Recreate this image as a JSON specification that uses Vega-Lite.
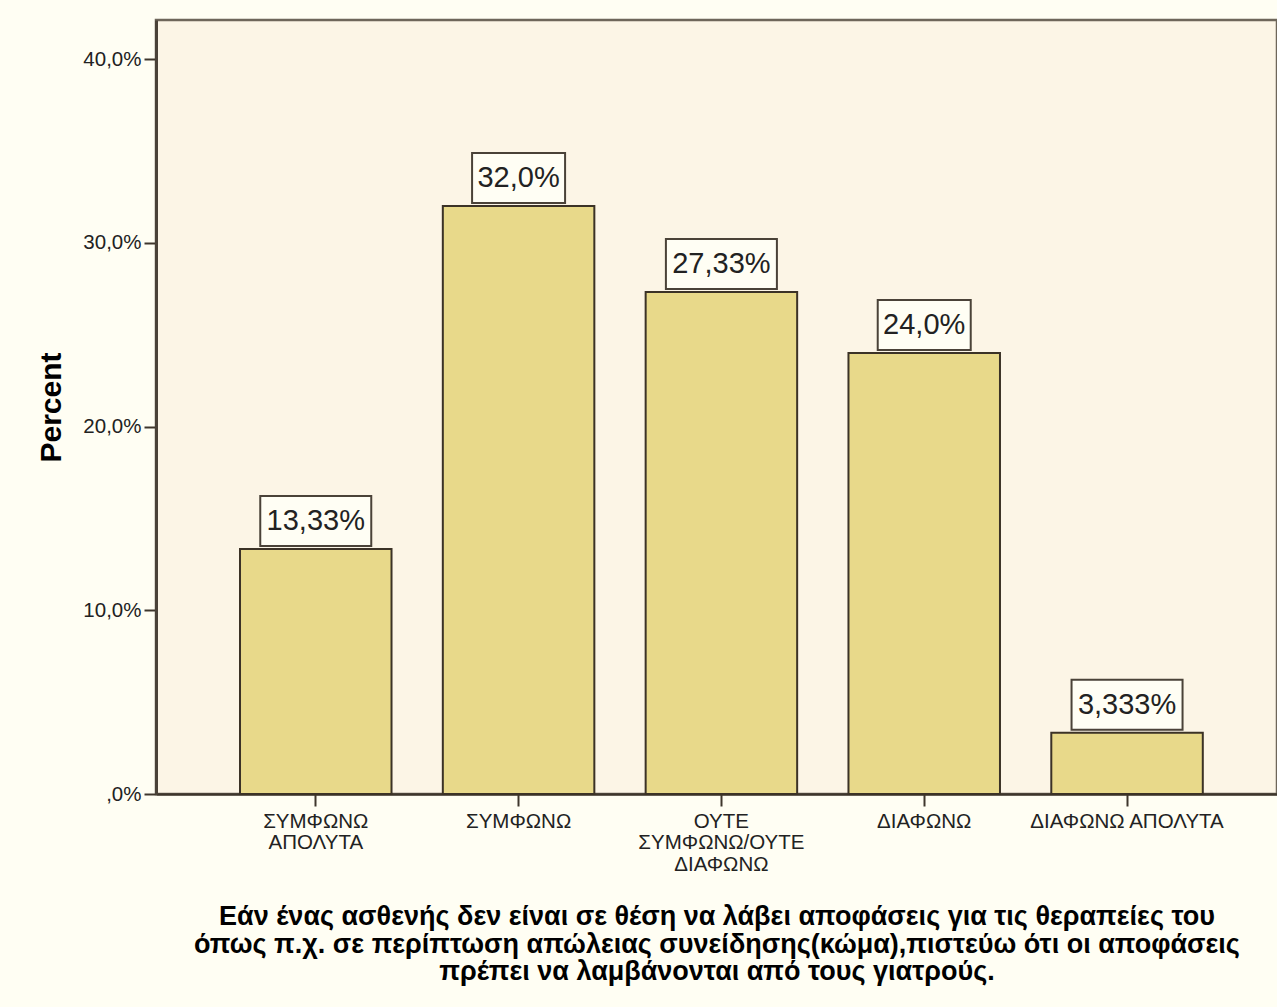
{
  "$schema": "https://vega.github.io/schema/vega-lite/v6.json",
  "autosize": {"type": "none"},
  "padding": {"left": 156, "top": 20, "right": 0, "bottom": 213},
  "width": 1121,
  "height": 774,
  "background": "#FFFEF3",
  "config": {
    "view": {"fill": "#FCF5E6", "stroke": "#6E665A", "strokeWidth": 2.5},
    "font": "Liberation Sans"
  },
  "data": {
    "values": [
      {"category": "ΣΥΜΦΩΝΩ ΑΠΟΛΥΤΑ", "percent": 13.33, "label": "13,33%"},
      {"category": "ΣΥΜΦΩΝΩ", "percent": 32.0, "label": "32,0%"},
      {"category": "ΟΥΤΕ ΣΥΜΦΩΝΩ/ΟΥΤΕ ΔΙΑΦΩΝΩ", "percent": 27.33, "label": "27,33%"},
      {"category": "ΔΙΑΦΩΝΩ", "percent": 24.0, "label": "24,0%"},
      {"category": "ΔΙΑΦΩΝΩ ΑΠΟΛΥΤΑ", "percent": 3.333, "label": "3,333%"}
    ]
  },
  "encoding": {
    "x": {
      "field": "category",
      "type": "nominal",
      "sort": null,
      "scale": {"paddingInner": 0.253, "paddingOuter": 0.39, "align": 0.531},
      "axis": {
        "labelAngle": 0,
        "labelFont": "Liberation Sans",
        "labelFontSize": 20.5,
        "labelColor": "#222222",
        "labelLineHeight": 21.5,
        "labelPadding": 5,
        "labelBaseline": "top",
        "labelLimit": 300,
        "labelExpr": "datum.label == 'ΣΥΜΦΩΝΩ ΑΠΟΛΥΤΑ' ? ['ΣΥΜΦΩΝΩ', 'ΑΠΟΛΥΤΑ'] : datum.label == 'ΟΥΤΕ ΣΥΜΦΩΝΩ/ΟΥΤΕ ΔΙΑΦΩΝΩ' ? ['ΟΥΤΕ', 'ΣΥΜΦΩΝΩ/ΟΥΤΕ', 'ΔΙΑΦΩΝΩ'] : datum.label",
        "domainColor": "#3E362C",
        "domainWidth": 2.5,
        "tickColor": "#3E362C",
        "tickWidth": 2,
        "tickSize": 12,
        "title": [
          "Εάν ένας ασθενής δεν είναι σε θέση να λάβει αποφάσεις για τις θεραπείες του",
          "όπως π.χ. σε περίπτωση απώλειας συνείδησης(κώμα),πιστεύω ότι οι αποφάσεις",
          "πρέπει να λαμβάνονται από τους γιατρούς."
        ],
        "titleFont": "Liberation Sans",
        "titleFontSize": 27,
        "titleFontWeight": "bold",
        "titleColor": "#000000",
        "titleLineHeight": 27.5,
        "titlePadding": 29
      }
    },
    "y": {
      "field": "percent",
      "type": "quantitative",
      "scale": {"domain": [0, 42.13], "nice": false, "zero": true},
      "axis": {
        "values": [0, 10, 20, 30, 40],
        "labelExpr": "datum.value == 0 ? ',0%' : replace(format(datum.value, '.1f'), '.', ',') + '%'",
        "labelFont": "Liberation Sans",
        "labelFontSize": 20.5,
        "labelColor": "#222222",
        "labelPadding": 3,
        "grid": false,
        "domainColor": "#4A4238",
        "domainWidth": 3,
        "tickColor": "#3E362C",
        "tickWidth": 2,
        "tickSize": 12,
        "title": "Percent",
        "titleFont": "Liberation Sans",
        "titleFontSize": 30,
        "titleFontWeight": "bold",
        "titleColor": "#000000",
        "titlePadding": 16
      }
    }
  },
  "layer": [
    {
      "mark": {"type": "bar", "fill": "#E8D98A", "stroke": "#3B3226", "strokeWidth": 2}
    },
    {
      "mark": {
        "type": "bar",
        "fill": "#FFFEF4",
        "stroke": "#4A4238",
        "strokeWidth": 2,
        "yOffset": -3,
        "y2Offset": -53
      },
      "encoding": {
        "y2": {"field": "percent"},
        "size": {"condition": {"test": "length(datum.label) > 5", "value": 111}, "value": 93}
      }
    },
    {
      "mark": {
        "type": "text",
        "font": "Liberation Sans",
        "fontSize": 29,
        "color": "#222222",
        "baseline": "middle",
        "align": "center",
        "yOffset": -28
      },
      "encoding": {
        "text": {"field": "label"}
      }
    }
  ]
}
